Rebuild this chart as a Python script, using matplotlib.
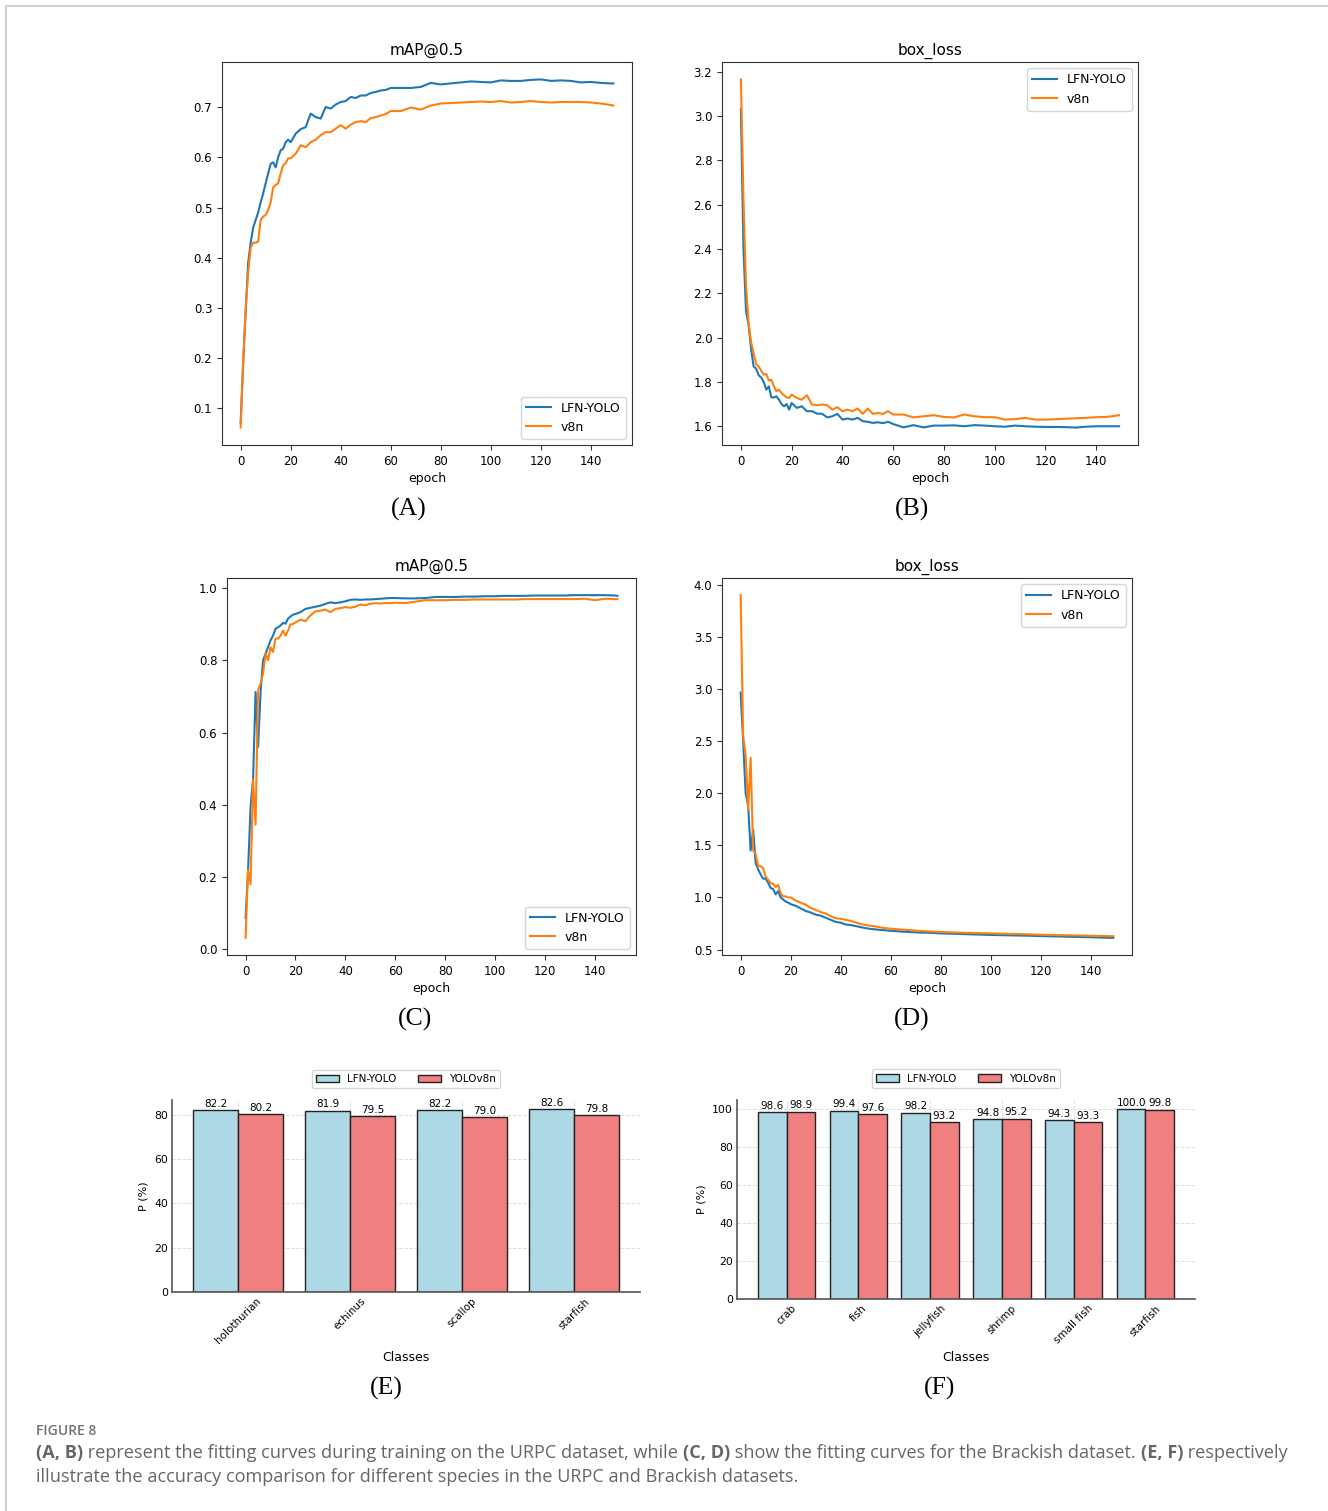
import matplotlib
matplotlib.use('Agg')
import matplotlib.pyplot as plt

epochs = (list(range(0, 21)) + list(range(22, 62, 2))
          + list(range(64, 149, 4)) + [149])

# (A) mAP@0.5 on URPC
map_urpc_lfn = [0.072, 0.19, 0.29, 0.39, 0.43, 0.46, 0.475, 0.49, 0.51, 0.528, 0.548,
                0.568, 0.587, 0.590, 0.580, 0.600, 0.614, 0.617, 0.630, 0.635, 0.630,
                0.647, 0.656, 0.660, 0.687, 0.680, 0.677, 0.700, 0.697, 0.705, 0.710,
                0.712, 0.720, 0.718, 0.723, 0.723, 0.728, 0.730, 0.733, 0.734, 0.738,
                0.738, 0.738, 0.740, 0.748, 0.745, 0.747, 0.749, 0.751, 0.750, 0.749,
                0.753, 0.752, 0.752, 0.754, 0.755, 0.752, 0.753, 0.752, 0.749, 0.750,
                0.748, 0.747, 0.747]
map_urpc_v8n = [0.062, 0.19, 0.30, 0.37, 0.42, 0.43, 0.43, 0.432, 0.475, 0.482, 0.485,
                0.495, 0.51, 0.54, 0.545, 0.548, 0.568, 0.584, 0.588, 0.598, 0.598,
                0.607, 0.624, 0.620, 0.630, 0.635, 0.644, 0.650, 0.650, 0.657, 0.664,
                0.657, 0.665, 0.670, 0.672, 0.670, 0.678, 0.680, 0.683, 0.686, 0.692,
                0.692, 0.699, 0.695, 0.703, 0.707, 0.708, 0.709, 0.710, 0.711, 0.710,
                0.712, 0.709, 0.710, 0.712, 0.710, 0.709, 0.710, 0.710, 0.710, 0.709,
                0.707, 0.704, 0.703]

# (B) box_loss on URPC
loss_urpc_lfn = [3.03, 2.405, 2.12, 2.06, 1.95, 1.87, 1.86, 1.83, 1.82, 1.80, 1.765,
                 1.78, 1.73, 1.73, 1.735, 1.72, 1.70, 1.69, 1.70, 1.675, 1.705,
                 1.683, 1.69, 1.668, 1.668, 1.657, 1.656, 1.640, 1.645, 1.656, 1.630,
                 1.635, 1.630, 1.638, 1.623, 1.620, 1.615, 1.618, 1.614, 1.620, 1.610,
                 1.595, 1.605, 1.595, 1.603, 1.603, 1.604, 1.600, 1.605, 1.603, 1.600,
                 1.598, 1.603, 1.600, 1.598, 1.597, 1.597, 1.596, 1.594, 1.598, 1.600,
                 1.600, 1.600, 1.600]
loss_urpc_v8n = [3.165, 2.63, 2.24, 2.07, 1.98, 1.93, 1.88, 1.87, 1.85, 1.833, 1.836,
                 1.806, 1.81, 1.78, 1.758, 1.765, 1.75, 1.74, 1.73, 1.728, 1.743,
                 1.728, 1.720, 1.740, 1.698, 1.695, 1.698, 1.695, 1.675, 1.686, 1.668,
                 1.675, 1.668, 1.680, 1.656, 1.680, 1.656, 1.660, 1.656, 1.668, 1.653,
                 1.653, 1.640, 1.645, 1.650, 1.642, 1.640, 1.653, 1.645, 1.641, 1.641,
                 1.630, 1.632, 1.638, 1.630, 1.630, 1.632, 1.634, 1.636, 1.638, 1.641,
                 1.642, 1.648, 1.650]

# (C) mAP@0.5 on Brackish
map_brk_lfn = [0.087, 0.22, 0.395, 0.47, 0.712, 0.56, 0.71, 0.80, 0.818, 0.836, 0.855,
               0.868, 0.887, 0.891, 0.896, 0.903, 0.901, 0.915, 0.921, 0.926, 0.928,
               0.933, 0.942, 0.945, 0.948, 0.951, 0.956, 0.960, 0.958, 0.960, 0.963,
               0.967, 0.968, 0.967, 0.968, 0.968, 0.969, 0.970, 0.971, 0.972, 0.972,
               0.971, 0.971, 0.972, 0.975, 0.975, 0.975, 0.976, 0.976, 0.977, 0.977,
               0.978, 0.978, 0.978, 0.979, 0.979, 0.979, 0.979, 0.980, 0.980, 0.980,
               0.980, 0.979, 0.978]
map_brk_v8n = [0.032, 0.22, 0.18, 0.47, 0.345, 0.717, 0.735, 0.763, 0.818, 0.80, 0.836,
               0.823, 0.86, 0.86, 0.868, 0.882, 0.868, 0.882, 0.899, 0.90, 0.905,
               0.912, 0.908, 0.924, 0.935, 0.937, 0.940, 0.933, 0.942, 0.944, 0.947,
               0.945, 0.948, 0.954, 0.952, 0.956, 0.958, 0.957, 0.958, 0.958, 0.959,
               0.958, 0.962, 0.966, 0.966, 0.966, 0.967, 0.967, 0.968, 0.968, 0.968,
               0.968, 0.968, 0.969, 0.969, 0.969, 0.969, 0.969, 0.969, 0.970, 0.966,
               0.970, 0.969, 0.969]

# (D) box_loss on Brackish
loss_brk_lfn = [2.965, 2.50, 2.00, 1.88, 1.45, 1.65, 1.33, 1.27, 1.22, 1.18, 1.18,
                1.14, 1.09, 1.08, 1.03, 1.06, 1.00, 0.98, 0.96, 0.95, 0.935,
                0.92, 0.895, 0.87, 0.855, 0.835, 0.825, 0.805, 0.785, 0.765, 0.758,
                0.740, 0.735, 0.725, 0.715, 0.705, 0.698, 0.693, 0.688, 0.684, 0.680,
                0.673, 0.667, 0.663, 0.660, 0.655, 0.652, 0.649, 0.646, 0.643, 0.640,
                0.638, 0.636, 0.634, 0.632, 0.629, 0.627, 0.625, 0.622, 0.620, 0.618,
                0.615, 0.612, 0.612]
loss_brk_v8n = [3.90, 2.55, 2.36, 1.845, 2.34, 1.45, 1.42, 1.30, 1.30, 1.28, 1.20,
                1.17, 1.14, 1.13, 1.10, 1.12, 1.04, 1.01, 1.01, 1.00, 1.00,
                0.97, 0.95, 0.93, 0.90, 0.88, 0.86, 0.845, 0.82, 0.80, 0.795,
                0.785, 0.775, 0.76, 0.745, 0.735, 0.728, 0.722, 0.712, 0.705, 0.700,
                0.692, 0.685, 0.678, 0.673, 0.668, 0.665, 0.662, 0.660, 0.657, 0.655,
                0.652, 0.650, 0.648, 0.645, 0.642, 0.640, 0.638, 0.636, 0.634, 0.632,
                0.630, 0.628, 0.628]

# (E) precision per class, URPC
urpc_classes = ['holothurian', 'echinus', 'scallop', 'starfish']
urpc_p_lfn = [82.2, 81.9, 82.2, 82.6]
urpc_p_v8n = [80.2, 79.5, 79.0, 79.8]

# (F) precision per class, Brackish
brk_classes = ['crab', 'fish', 'jellyfish', 'shrimp', 'small fish', 'starfish']
brk_p_lfn = [98.6, 99.4, 98.2, 94.8, 94.3, 100.0]
brk_p_v8n = [98.9, 97.6, 93.2, 95.2, 93.3, 99.8]

W, H = 1328, 1511
fig = plt.figure(figsize=(W / 100, H / 100), dpi=100)


def box(l, t, r, b):
    # axes from pixel edges (left, top, right, bottom)
    return fig.add_axes([l / W, 1 - b / H, (r - l) / W, (b - t) / H])


def curve_panel(rect, title, lfn, v8n, loc):
    ax = box(*rect)
    ax.plot(epochs, lfn, color='#1f77b4', lw=1.5, label='LFN-YOLO')
    ax.plot(epochs, v8n, color='#ff7f0e', lw=1.5, label='v8n')
    ax.set_title(title, fontsize=11, pad=5)
    ax.set_xlabel('epoch', fontsize=9, labelpad=3)
    ax.set_xticks(range(0, 141, 20))
    ax.tick_params(labelsize=8.5, length=3.5, color='#333333')
    for s in ax.spines.values():
        s.set_color('#333333')
    ax.legend(loc=loc, fontsize=9)
    return ax


curve_panel((222, 62, 632, 445), 'mAP@0.5', map_urpc_lfn, map_urpc_v8n, 'lower right')
curve_panel((722, 62, 1138, 445), 'box_loss', loss_urpc_lfn, loss_urpc_v8n, 'upper right')
curve_panel((227, 578, 636, 955), 'mAP@0.5', map_brk_lfn, map_brk_v8n, 'lower right')
curve_panel((722, 578, 1132, 955), 'box_loss', loss_brk_lfn, loss_brk_v8n, 'upper right')


def bar_panel(rect, classes, lfn, v8n):
    ax = box(*rect)
    x = list(range(len(classes)))
    w = 0.4
    b1 = ax.bar([i - w / 2 for i in x], lfn, w, color='#add8e6', edgecolor='#222222',
                linewidth=1.0, label='LFN-YOLO')
    b2 = ax.bar([i + w / 2 for i in x], v8n, w, color='#f08080', edgecolor='#222222',
                linewidth=1.0, label='YOLOv8n')
    ax.bar_label(b1, fmt='%.1f', fontsize=7.5, padding=1)
    ax.bar_label(b2, fmt='%.1f', fontsize=7.5, padding=1)
    ax.set_xticks(x)
    ax.set_xticklabels(classes, rotation=45, fontsize=7.5)
    ax.set_yticks(range(0, int(max(lfn + v8n)) + 1, 20))
    ax.tick_params(axis='y', labelsize=7.8)
    ax.tick_params(length=0, pad=3)
    ax.set_ylabel('P (%)', fontsize=8)
    ax.set_xlabel('Classes', fontsize=9)
    ax.grid(True, linestyle='--', color='#dddddd', linewidth=0.7)
    ax.set_axisbelow(True)
    for side in ('top', 'right'):
        ax.spines[side].set_visible(False)
    for side in ('left', 'bottom'):
        ax.spines[side].set_color('#555555')
        ax.spines[side].set_linewidth(1.2)
    ax.legend(loc='lower center', bbox_to_anchor=(0.5, 1.035), ncol=2, fontsize=7.5,
              handlelength=2.2, columnspacing=2.0)
    return ax


bar_panel((172, 1100, 640, 1292), urpc_classes, urpc_p_lfn, urpc_p_v8n)
bar_panel((737, 1100, 1195, 1299), brk_classes, brk_p_lfn, brk_p_v8n)

# panel letters
for lab, cx, cy in [('(A)', 409, 509), ('(B)', 912, 509), ('(C)', 415, 1019),
                    ('(D)', 912, 1019), ('(E)', 386, 1388), ('(F)', 940, 1388)]:
    fig.text(cx / W, 1 - cy / H, lab, family='Liberation Serif', fontsize=18.5,
             ha='center', va='center')

# thin frame of the figure page
fig.add_artist(plt.Line2D([6 / W, 1], [1 - 6 / H, 1 - 6 / H], color='#c8c8c8', lw=1.2))
fig.add_artist(plt.Line2D([6 / W, 6 / W], [0, 1 - 6 / H], color='#c8c8c8', lw=1.2))

# caption
cap = dict(family='Open Sans', fontsize=13.1, color='#666666')
renderer = fig.canvas.get_renderer()


def text_width(s, **kw):
    t = fig.text(0, 0, s + '|', **kw)
    w1 = t.get_window_extent(renderer).width
    t.remove()
    t = fig.text(0, 0, '|', **kw)
    w2 = t.get_window_extent(renderer).width
    t.remove()
    return w1 - w2


def draw_runs(x, y, parts):
    for s, wt in parts:
        fig.text(x / W, 1 - y / H, s, fontweight=wt, va='baseline', **cap)
        x += text_width(s, fontweight=wt, **cap)


fig.text(36 / W, 1 - 1435 / H, 'FIGURE 8', family='Open Sans', fontsize=10,
         fontweight='semibold', color='#707070', va='baseline')
draw_runs(36, 1458, [('(A, B)', 'bold'),
                     (' represent the fitting curves during training on the URPC dataset, while ', 'normal'),
                     ('(C, D)', 'bold'),
                     (' show the fitting curves for the Brackish dataset. ', 'normal'),
                     ('(E, F)', 'bold'),
                     (' respectively', 'normal')])
draw_runs(36, 1482, [('illustrate the accuracy comparison for different species in the URPC and Brackish datasets.', 'normal')])

fig.savefig('out.png', dpi=100)
